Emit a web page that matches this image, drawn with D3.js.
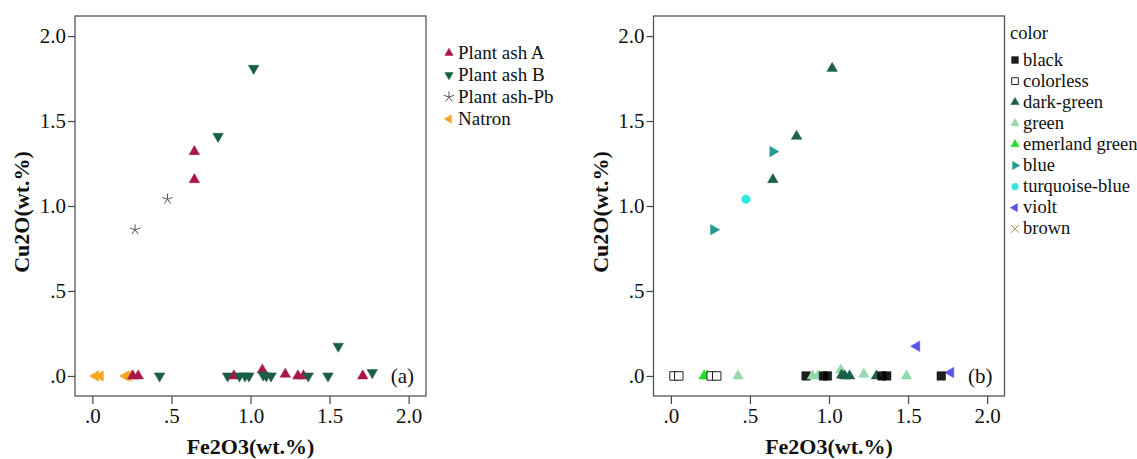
<!DOCTYPE html>
<html>
<head>
<meta charset="utf-8">
<script src="https://cdn.jsdelivr.net/npm/d3@7"></script>
<style>
  html, body { margin: 0; padding: 0; background: #fff; }
  svg { display: block; }
  svg text { font-family: "Liberation Serif", "Times New Roman", Tinos, "DejaVu Serif", serif; }
</style>
</head>
<body>
<svg id="chart" width="1137" height="459"></svg>
<script>
// Glass samples: iron and copper oxide content (wt.%), flux type and glass colour
const fe2o3 = [1.02, 0.795, 0.645, 0.645, 0.475, 0.27, 1.555, 1.77, 1.71,
  0.02, 0.05, 0.21, 0.23, 0.255, 0.29, 0.425, 0.855, 0.895, 0.93, 0.965, 0.99,
  1.075, 1.08, 1.10, 1.13, 1.22, 1.30, 1.335, 1.365, 1.49];
const cu2o = [1.81, 1.41, 1.32, 1.155, 1.04, 0.86, 0.175, 0.02, 0.0,
  0.0, 0.0, 0.0, 0.0, 0.0, 0.0, 0.0, 0.0, 0.0, 0.0, 0.0, 0.0,
  0.035, 0.005, 0.0, 0.0, 0.01, 0.0, 0.0, 0.0, 0.0];
const glassType = ["Plant ash B", "Plant ash B", "Plant ash A", "Plant ash A", "Plant ash-Pb", "Plant ash-Pb",
  "Plant ash B", "Plant ash B", "Plant ash A",
  "Natron", "Natron", "Natron", "Natron", "Plant ash A", "Plant ash A", "Plant ash B",
  "Plant ash B", "Plant ash A", "Plant ash B", "Plant ash B", "Plant ash B",
  "Plant ash A", "Plant ash B", "Plant ash B", "Plant ash B", "Plant ash A", "Plant ash A",
  "Plant ash A", "Plant ash B", "Plant ash B"];
const glassColor = ["dark-green", "dark-green", "blue", "dark-green", "turquoise-blue", "blue",
  "violt", "violt", "black",
  "colorless", "colorless", "emerland green", "emerland green", "colorless", "colorless", "green",
  "black", "green", "green", "black", "black",
  "green", "dark-green", "dark-green", "dark-green", "green", "dark-green",
  "black", "black", "green"];

// Legend categories
const typeCategories = ["Plant ash A", "Plant ash B", "Plant ash-Pb", "Natron"];
const colorCategories = ["black", "colorless", "dark-green", "green", "emerland green",
  "blue", "turquoise-blue", "violt", "brown"];

// Axis ticks
const xTicks = [0, 0.5, 1.0, 1.5, 2.0];
const yTicks = [0, 0.5, 1.0, 1.5, 2.0];
const tickLabels = [".0", ".5", "1.0", "1.5", "2.0"];

const samples = fe2o3.map((x, i) => ({ x, y: cu2o[i], type: glassType[i], color: glassColor[i] }));

// Marker styles
const typeStyle = {
  "Plant ash A":  { shape: "up",    fill: "#a8174b", stroke: "#a8174b" },
  "Plant ash B":  { shape: "down",  fill: "#1b5f42", stroke: "#1b5f42" },
  "Plant ash-Pb": { shape: "star",  fill: "none",    stroke: "#555" },
  "Natron":       { shape: "left",  fill: "#f5a623", stroke: "#f5a623" }
};
const colorStyle = {
  "black":          { shape: "square", fill: "#000",    stroke: "#000", opacity: 0.88 },
  "colorless":      { shape: "square", fill: "#fff",    stroke: "#222" },
  "dark-green":     { shape: "up",     fill: "#1c604a", stroke: "#1c604a" },
  "green":          { shape: "up",     fill: "#93d9ad", stroke: "#93d9ad" },
  "emerland green": { shape: "up",     fill: "#22e02a", stroke: "#22e02a" },
  "blue":           { shape: "right",  fill: "#269a92", stroke: "#269a92" },
  "turquoise-blue": { shape: "circle", fill: "#2ee8e0", stroke: "#2ee8e0" },
  "violt":          { shape: "left",   fill: "#5a55ee", stroke: "#5a55ee" },
  "brown":          { shape: "cross",  fill: "none",    stroke: "#9a8a50" }
};

function markerPath(shape, size) {
  const tri = d3.symbol(d3.symbolTriangle, size)();
  switch (shape) {
    case "up":     return { d: tri, rot: 0 };
    case "down":   return { d: tri, rot: 180 };
    case "right":  return { d: tri, rot: 90 };
    case "left":   return { d: tri, rot: -90 };
    case "square": return { d: d3.symbol(d3.symbolSquare, size * 1.5)(), rot: 0 };
    case "circle": return { d: d3.symbol(d3.symbolCircle, size * 1.2)(), rot: 0 };
    case "cross":  return { d: "M-4,-4L4,4M-4,4L4,-4", rot: 0 };
    case "star": {
      // five-armed asterisk
      const r = 5.5;
      let p = "";
      for (let k = 0; k < 5; k++) {
        const a = -Math.PI / 2 + k * 2 * Math.PI / 5;
        p += `M0,0L${r * Math.cos(a)},${r * Math.sin(a)}`;
      }
      return { d: p, rot: 0 };
    }
  }
}

function drawMarker(g, cx, cy, style, size) {
  const m = markerPath(style.shape, size);
  g.append("path")
    .attr("d", m.d)
    .attr("transform", `translate(${cx},${cy}) rotate(${m.rot})`)
    .attr("fill", style.fill)
    .attr("fill-opacity", style.opacity || 1)
    .attr("stroke", style.stroke)
    .attr("stroke-width", style.shape === "star" || style.shape === "cross" ? 1 : (style.fill === "#fff" ? 1 : 0.5));
}

const svg = d3.select("#chart");

function panel(offsetX, keyFn, styles, tag) {
  const left = offsetX + 75, right = offsetX + 426, top = 16, bottom = 396;
  const x = d3.scaleLinear().domain([-0.11, 2.11]).range([left, right]);
  const y = d3.scaleLinear().domain([-0.118, 2.118]).range([bottom, top]);
  const g = svg.append("g");

  // plot frame
  g.append("rect")
    .attr("x", left).attr("y", top)
    .attr("width", right - left).attr("height", bottom - top)
    .attr("fill", "none").attr("stroke", "#555").attr("stroke-width", 1.3);

  const xAxis = g.append("g")
    .attr("transform", `translate(0,${bottom})`)
    .call(d3.axisBottom(x).tickValues(xTicks).tickSize(8).tickPadding(4)
      .tickFormat((d, i) => tickLabels[i]));
  const yAxis = g.append("g")
    .attr("transform", `translate(${left},0)`)
    .call(d3.axisLeft(y).tickValues(yTicks).tickSize(7).tickPadding(2)
      .tickFormat((d, i) => tickLabels[i]));
  [xAxis, yAxis].forEach(ax => {
    ax.select(".domain").remove();
    ax.selectAll(".tick line").attr("stroke", "#444").attr("stroke-width", 1.2);
    ax.selectAll(".tick text")
      .attr("fill", "#111")
      .attr("font-family", null)
      .attr("font-size", null)
      .style("font-size", "21px");
  });

  // axis titles
  g.append("text")
    .attr("x", (left + right) / 2).attr("y", 454)
    .attr("text-anchor", "middle")
    .style("font-size", "22px").style("font-weight", "bold")
    .attr("fill", "#111")
    .text("Fe2O3(wt.%)");
  g.append("text")
    .attr("transform", `translate(${offsetX + 29},${(top + bottom) / 2 + 6}) rotate(-90)`)
    .attr("text-anchor", "middle")
    .style("font-size", "22px").style("font-weight", "bold")
    .attr("fill", "#111")
    .text("Cu2O(wt.%)");

  // panel tag
  g.append("text")
    .attr("x", right - 12).attr("y", y(0) + 7)
    .attr("text-anchor", "end")
    .style("font-size", "21px")
    .attr("fill", "#111")
    .text(tag);

  // sample points
  const pts = g.append("g");
  samples.forEach(s => drawMarker(pts, x(s.x), y(s.y), styles[keyFn(s)], 48));
}

panel(0, s => s.type, typeStyle, "(a)");
panel(578.5, s => s.color, colorStyle, "(b)");

// Legend for flux type
const legA = svg.append("g");
typeCategories.forEach((c, i) => {
  const cy = 53 + i * 22;
  drawMarker(legA, 449, cy, typeStyle[c], 30);
  legA.append("text")
    .attr("x", 458).attr("y", cy + 6)
    .style("font-size", "19px").attr("fill", "#111")
    .text(c);
});

// Legend for glass colour
const legB = svg.append("g");
legB.append("text")
  .attr("x", 1010).attr("y", 39)
  .style("font-size", "18.5px").attr("fill", "#111")
  .text("color");
colorCategories.forEach((c, i) => {
  const cy = 60 + i * 21.1;
  drawMarker(legB, 1015, cy, colorStyle[c], 30);
  legB.append("text")
    .attr("x", 1023).attr("y", cy + 5.5)
    .style("font-size", "18.5px").attr("fill", "#111")
    .text(c);
});
</script>
</body>
</html>
